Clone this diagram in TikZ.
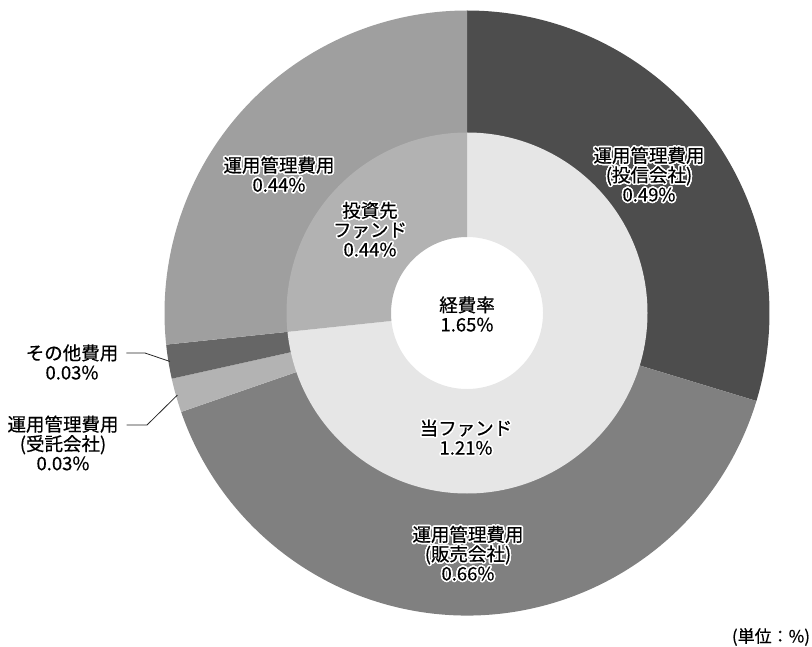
\documentclass[tikz,border=0pt]{standalone}
\usepackage{fontspec}
\setmainfont{Noto Sans CJK JP}[FakeBold=0.45]
\usepackage{tikz}
\usepackage{contour}
\contourlength{1.6pt}

\definecolor{segTrust}{HTML}{4D4D4D}
\definecolor{segSales}{HTML}{808080}
\definecolor{segCustody}{HTML}{B3B3B3}
\definecolor{segOther}{HTML}{666666}
\definecolor{segMgmt}{HTML}{9F9F9F}
\definecolor{segFundOwn}{HTML}{E6E6E6}
\definecolor{segFundSub}{HTML}{B2B2B2}

\newcommand{\chartFont}{\fontsize{18.5}{19.5}\selectfont}
\newcommand{\haloText}[1]{\contour{white}{#1}}
% annular sector: colour, start angle, end angle, inner radius, outer radius
\newcommand{\ringSeg}[5]{\fill[#1] (#2:#5) arc[start angle=#2, end angle=#3, radius=#5] -- (#3:#4) arc[start angle=#3, end angle=#2, radius=#4] -- cycle;}

\begin{document}
\begin{tikzpicture}[x=1pt,y=1pt,yscale=-1,xscale=1,
    lbl/.style={align=center, inner sep=0.75pt, font=\chartFont},
    callout/.style={lbl, inner xsep=8pt},
    leader/.style={draw=black!85, line width=0.8pt}]
    \useasboundingbox (0,0) rectangle (812,647);

    \begin{scope}[shift={(467,313)}]
    %Shape: Outer ring
    \ringSeg{segTrust}{-90}{16.909}{180}{302.5}
    \ringSeg{segSales}{16.909}{160.909}{180}{302.5}
    \ringSeg{segCustody}{160.909}{167.455}{180}{302.5}
    \ringSeg{segOther}{167.455}{174}{180}{302.5}
    \ringSeg{segMgmt}{174}{270}{180}{302.5}
    %Shape: Inner ring
    \ringSeg{segFundOwn}{-90}{174}{76}{180.5}
    \ringSeg{segFundSub}{174}{270}{76}{180.5}
    %leader tips on the outer edge
    \coordinate (otherTip) at (170.73:301);
    \coordinate (custodyTip) at (164.18:301);
    \end{scope}

    % Text Node
    \draw (467,314) node (totalLbl) [lbl] {経費率\\1.65\%};
    % Text Node
    \draw (466,438) node (fundOwnLbl) [lbl] {\haloText{当ファンド}\\\haloText{1.21\%}};
    % Text Node
    \draw (370,230) node (fundSubLbl) [lbl] {\haloText{投資先}\\\haloText{ファンド}\\\haloText{0.44\%}};
    % Text Node
    \draw (649,175) node (trustLbl) [lbl] {\haloText{運用管理費用}\\\haloText{(投信会社)}\\\haloText{0.49\%}};
    % Text Node
    \draw (468,554) node (salesLbl) [lbl] {\haloText{運用管理費用}\\\haloText{(販売会社)}\\\haloText{0.66\%}};
    % Text Node
    \draw (279,175) node (mgmtLbl) [lbl] {\haloText{運用管理費用}\\\haloText{0.44\%}};
    % Text Node
    \draw (72,362) node (otherLbl) [callout] {その他費用\\0.03\%};
    % Text Node
    \draw (63,443) node (custodyLbl) [callout] {運用管理費用\\(受託会社)\\0.03\%};
    % Text Node
    \draw (811,637) node (unitLbl) [lbl, anchor=east, font=\fontsize{17}{18}\selectfont] {(単位：\%)};

    %Straight Lines: leaders
    \coordinate (otherBend) at (145,353);
    \coordinate (custodyBend) at (147,425);
    \draw [leader] (otherLbl.east |- otherBend) -- (otherBend) -- (otherTip);
    \draw [leader] (custodyLbl.east |- custodyBend) -- (custodyBend) -- (custodyTip);
\end{tikzpicture}
\end{document}
